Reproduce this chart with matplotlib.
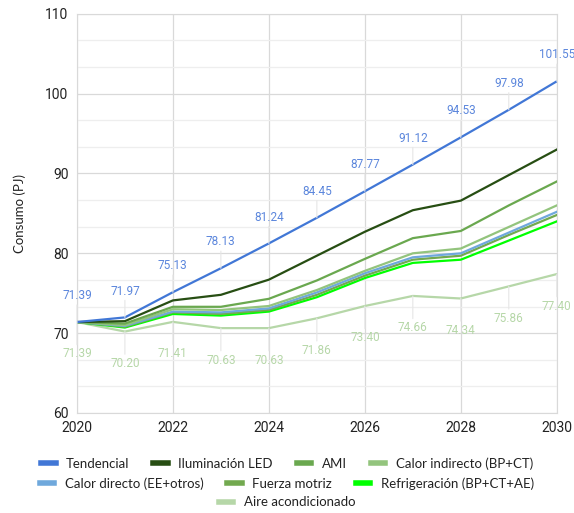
import matplotlib.pyplot as plt
from matplotlib.ticker import MultipleLocator
from matplotlib.lines import Line2D

years = list(range(2020, 2031))

tendencial = [71.39, 71.97, 75.13, 78.13, 81.24, 84.45, 87.77, 91.12, 94.53, 97.98, 101.55]
iluminacion_led = [71.39, 71.5, 74.1, 74.8, 76.7, 79.7, 82.7, 85.4, 86.6, 89.8, 93.0]
ami = [71.39, 71.2, 73.3, 73.3, 74.3, 76.6, 79.3, 81.9, 82.8, 86.0, 89.0]
calor_indirecto = [71.39, 71.0, 73.0, 72.9, 73.4, 75.4, 77.8, 80.0, 80.6, 83.3, 86.0]
calor_directo = [71.39, 70.9, 72.7, 72.6, 73.1, 75.1, 77.5, 79.5, 80.0, 82.6, 85.2]
fuerza_motriz = [71.39, 70.8, 72.6, 72.4, 72.9, 74.8, 77.2, 79.2, 79.7, 82.3, 84.8]
refrigeracion = [71.39, 70.7, 72.4, 72.2, 72.7, 74.5, 76.9, 78.8, 79.2, 81.6, 84.0]
aire_acondicionado = [71.39, 70.20, 71.41, 70.63, 70.63, 71.86, 73.40, 74.66, 74.34, 75.86, 77.40]

series = [
    ("Tendencial", tendencial, "#4177d6"),
    ("Iluminación LED", iluminacion_led, "#274e13"),
    ("AMI", ami, "#6aa84f"),
    ("Calor indirecto (BP+CT)", calor_indirecto, "#93c47d"),
    ("Calor directo (EE+otros)", calor_directo, "#6fa8dc"),
    ("Fuerza motriz", fuerza_motriz, "#72a94f"),
    ("Refrigeración (BP+CT+AE)", refrigeracion, "#00ff00"),
    ("Aire acondicionado", aire_acondicionado, "#b6d7a8"),
]

plt.rcParams['font.family'] = ['Roboto', 'DejaVu Sans']

fig = plt.figure(figsize=(5.74, 5.13), dpi=100)
ax = fig.add_axes([0.134, 0.195, 0.836, 0.778])

for name, vals, color in reversed(series):
    ax.plot(years, vals, color=color, lw=1.6, solid_joinstyle='round',
            zorder=3 if name != "Tendencial" else 4)

# data labels
for x, v in zip(years, tendencial):
    ax.annotate(f"{v:.2f}", (x, v), xytext=(0, 19), textcoords='offset points',
                ha='center', va='center', fontsize=8.5, color='#5b86dc',
                arrowprops=dict(arrowstyle='-', color='#e6e6e6', lw=0.8,
                                shrinkA=0, shrinkB=0), zorder=5)
for x, v in zip(years, aire_acondicionado):
    ax.annotate(f"{v:.2f}", (x, v), xytext=(0, -23), textcoords='offset points',
                ha='center', va='center', fontsize=8.5, color='#b6d7a8',
                arrowprops=dict(arrowstyle='-', color='#e6e6e6', lw=0.8,
                                shrinkA=0, shrinkB=0), zorder=5)

ax.set_xlim(2020, 2030)
ax.set_ylim(60, 110)
ax.xaxis.set_major_locator(MultipleLocator(2))
ax.yaxis.set_major_locator(MultipleLocator(10))
ax.yaxis.set_minor_locator(MultipleLocator(10 / 3))
ax.grid(which='major', color='#d9d9d9', lw=0.9, zorder=0)
ax.grid(which='minor', axis='y', color='#eeeeee', lw=0.9, zorder=0)
ax.set_axisbelow(True)
for s in ax.spines.values():
    s.set_color('#d9d9d9')
ax.tick_params(which='both', length=0, labelsize=10, colors='#222222', pad=6)
ax.set_ylabel("Consumo (PJ)", fontsize=9.5, family=['Lato', 'DejaVu Sans'],
              color='#222222', labelpad=14)

rows = [series[0:4], series[4:7], series[7:8]]
row_y = [0.097, 0.058, 0.021]
for row, yy in zip(rows, row_y):
    handles = [Line2D([0], [0], color=c, lw=4) for _, _, c in row]
    leg = fig.legend(handles, [n for n, _, _ in row], loc='center',
                     bbox_to_anchor=(0.5, yy), ncol=len(row), frameon=False,
                     handlelength=1.1, handletextpad=0.8, columnspacing=1.8,
                     prop={'family': ['Lato', 'DejaVu Sans'], 'size': 9.5})
    for t in leg.get_texts():
        t.set_color('#222222')

fig.savefig("out.png", dpi=100)
